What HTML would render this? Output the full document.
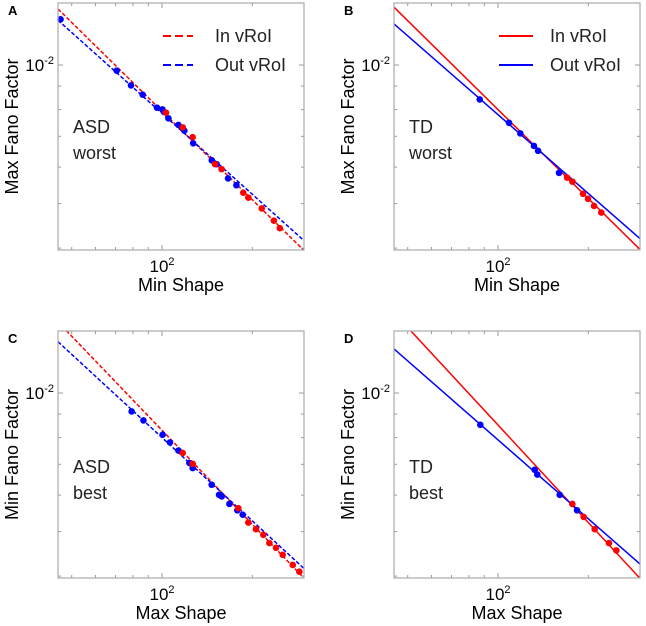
<!DOCTYPE html>
<html><head><meta charset="utf-8"><style>
html,body{margin:0;padding:0;background:#fff;}
svg{display:block;font-family:"Liberation Sans",sans-serif;}
</style></head><body>
<svg id="fig" width="646" height="626" viewBox="0 0 646 626"></svg>
<script>
// Panel A (ASD worst): Min Shape vs Max Fano Factor
const aBlueX=[45.9,70.6,78.8,86.2,96.2,100.3,105,113.4,118.7,127,146.5,152,166,177];
const aBlueY=[0.01257,0.00972,0.00903,0.00862,0.00808,0.00801,0.00766,0.00741,0.00720,0.00676,0.00621,0.00609,0.00567,0.00548];
const aRedX=[103.1,117.2,126.5,150.2,158,186.6,194,215,236,247];
const aRedY=[0.00788,0.00732,0.00697,0.00609,0.00594,0.00528,0.00515,0.00488,0.00459,0.00442];
const aFit=[[0.00794,-0.64],[0.00785,-0.584]]; // [value at x=100, exponent] red, blue
// Panel B (TD worst)
const bBlueX=[86.9,108.8,118.7,131.8,136,159.7];
const bBlueY=[0.00842,0.00749,0.00710,0.00667,0.00651,0.00583];
const bRedX=[170,177,192,199.5,209,221];
const bRedY=[0.00569,0.00558,0.00525,0.00512,0.00494,0.00478];
const bFit=[[0.0080,-0.642],[0.0078,-0.569]];
// Panel C (ASD best)
const cBlueX=[79.2,86.7,100.5,106.3,113.4,123.3,126.5,146.4,154.9,158.1,167.7,178.2,185.8];
const cBlueY=[0.00912,0.00872,0.00812,0.00781,0.00750,0.00705,0.00687,0.00632,0.00601,0.00596,0.00574,0.00556,0.00544];
const cRedX=[117.2,126.5,179.6,194,205.7,217.6,228,239.9,252.5,272.8,287];
const cRedY=[0.00741,0.00702,0.00562,0.00523,0.00506,0.00492,0.00472,0.00461,0.00445,0.00423,0.00409];
const cFit=[[0.0083,-0.679],[0.0080,-0.601]];
// Panel D (TD best)
const dBlueX=[87.3,132.5,135.2,160.6,183.4];
const dBlueY=[0.00853,0.00681,0.00665,0.00601,0.00556];
const dRedX=[176.9,193,210,234.4,248];
const dRedY=[0.00574,0.00538,0.00506,0.00472,0.00455];
const dFit=[[0.00852,-0.704],[0.00791,-0.570]];
const xTicksMinor=[50,60,70,80,90,200];
const yTicksMinor=[0.004,0.005,0.006,0.007,0.008,0.009];
const xDomain=[45.0,297.4];
const yDomain=[0.003963,0.01364];

const NS="http://www.w3.org/2000/svg";
const svg=document.getElementById('fig');
function mk(tag,attrs,parent){const e=document.createElementNS(NS,tag);for(const k in attrs)e.setAttribute(k,attrs[k]);(parent||svg).appendChild(e);return e;}

const panels=[
 {L:'A',x0:58,y0:3,bx:aBlueX,by:aBlueY,rx:aRedX,ry:aRedY,fit:aFit,dash:true,legend:true,yl:'Max Fano Factor',xl:'Min Shape',t1:'ASD',t2:'worst'},
 {L:'B',x0:394,y0:3,bx:bBlueX,by:bBlueY,rx:bRedX,ry:bRedY,fit:bFit,dash:false,legend:true,yl:'Max Fano Factor',xl:'Min Shape',t1:'TD',t2:'worst'},
 {L:'C',x0:58,y0:331,bx:cBlueX,by:cBlueY,rx:cRedX,ry:cRedY,fit:cFit,dash:true,legend:false,yl:'Min Fano Factor',xl:'Max Shape',t1:'ASD',t2:'best'},
 {L:'D',x0:394,y0:331,bx:dBlueX,by:dBlueY,rx:dRedX,ry:dRedY,fit:dFit,dash:false,legend:false,yl:'Min Fano Factor',xl:'Max Shape',t1:'TD',t2:'best'}
];
const W=246,H=247;
panels.forEach(p=>{
 const g=mk('g',{});
 
 
 const sx=v=>p.x0+W*(Math.log10(v)-Math.log10(xDomain[0]))/(Math.log10(xDomain[1])-Math.log10(xDomain[0]));
 const sy=v=>p.y0+H*(Math.log10(yDomain[1])-Math.log10(v))/(Math.log10(yDomain[1])-Math.log10(yDomain[0]));
 const cp=mk('clipPath',{id:'clip'+p.L},g);
 mk('rect',{x:p.x0,y:p.y0,width:W,height:H},cp);
 const lbl=mk('text',{x:p.x0-50,y:p.y0+12,'font-size':13,'font-weight':'bold'},g);lbl.textContent=p.L;
 
 
 xTicksMinor.forEach(v=>{const x=sx(v);mk('line',{x1:x,x2:x,y1:p.y0+H,y2:p.y0+H-3,stroke:'#999','stroke-width':1},g);mk('line',{x1:x,x2:x,y1:p.y0,y2:p.y0+3,stroke:'#999','stroke-width':1},g);});
 [100].forEach(v=>{const x=sx(v);mk('line',{x1:x,x2:x,y1:p.y0+H,y2:p.y0+H-5,stroke:'#999'},g);mk('line',{x1:x,x2:x,y1:p.y0,y2:p.y0+5,stroke:'#999'},g);});
 yTicksMinor.forEach(v=>{const y=sy(v);mk('line',{x1:p.x0,x2:p.x0+3,y1:y,y2:y,stroke:'#999'},g);mk('line',{x1:p.x0+W,x2:p.x0+W-3,y1:y,y2:y,stroke:'#999'},g);});
 {const y=sy(0.01);mk('line',{x1:p.x0,x2:p.x0+5,y1:y,y2:y,stroke:'#999'},g);mk('line',{x1:p.x0+W,x2:p.x0+W-5,y1:y,y2:y,stroke:'#999'},g);
  const t=mk('text',{x:p.x0-4,y:y+6,'text-anchor':'end','font-size':17},g);t.innerHTML='10<tspan dy="-7" font-size="11">-2</tspan>';
  
  }
 {const x=sx(100);const t=mk('text',{x:x,y:p.y0+H+22,'text-anchor':'middle','font-size':17},g);t.innerHTML='10<tspan dy="-7" font-size="11">2</tspan>';
  
  }
 const xt=mk('text',{x:p.x0+W/2,y:p.y0+H+41,'text-anchor':'middle','font-size':18},g);xt.textContent=p.xl;
 
 
 const yc=p.y0+H/2;
 const yt=mk('text',{x:p.x0-46,y:yc+6,'text-anchor':'middle','font-size':18,transform:`rotate(-90 ${p.x0-46} ${yc})`},g);
 yt.textContent=p.yl;
 
 
 const cols=['#ff0000','#0000ff'];
 p.fit.forEach((f,i)=>{
   const fy=v=>f[0]*Math.pow(v/100,f[1]);
   const ln=mk('line',{x1:sx(xDomain[0]),y1:sy(fy(xDomain[0])),x2:sx(xDomain[1]),y2:sy(fy(xDomain[1])),stroke:cols[i],'stroke-width':1.5,'clip-path':`url(#clip${p.L})`},g);
   if(p.dash)ln.setAttribute('stroke-dasharray','4 2');
   
   
 });
 p.bx.forEach((v,i)=>{const c=mk('circle',{cx:sx(v),cy:sy(p.by[i]),r:3.3,fill:'#0000ff'},g);
   
   });
 p.rx.forEach((v,i)=>{const c=mk('circle',{cx:sx(v),cy:sy(p.ry[i]),r:3.3,fill:'#ff0000'},g);
   
   });
 const fr=mk('rect',{x:p.x0,y:p.y0,width:W,height:H,fill:'none',stroke:'#aaa','stroke-width':1.2},g);
 
 
 const an=mk('text',{x:p.x0+15,y:p.y0+(p.L<'C'?130:142),'font-size':18,fill:'#222'},g);
 an.innerHTML=`<tspan x="${p.x0+15}">${p.t1}</tspan><tspan x="${p.x0+15}" dy="26">${p.t2}</tspan>`;
 
 
 if(p.legend){
   const lg=mk('g',{},g);
   
   
   const lx0=p.x0+105, lx1=lx0+(p.dash?30:34);
   [['In vRoI','#ff0000',33],['Out vRoI','#0000ff',62]].forEach(e=>{
     const l=mk('line',{x1:lx0,x2:lx1,y1:p.y0+e[2],y2:p.y0+e[2],stroke:e[1],'stroke-width':2},lg);
     if(p.dash)l.setAttribute('stroke-dasharray','8 4');
     const t=mk('text',{x:lx1+(p.dash?22:17),y:p.y0+e[2]+6,'font-size':18,fill:'#222'},lg);t.textContent=e[0];
     
     
   });
 }
});
</script>
</body></html>
